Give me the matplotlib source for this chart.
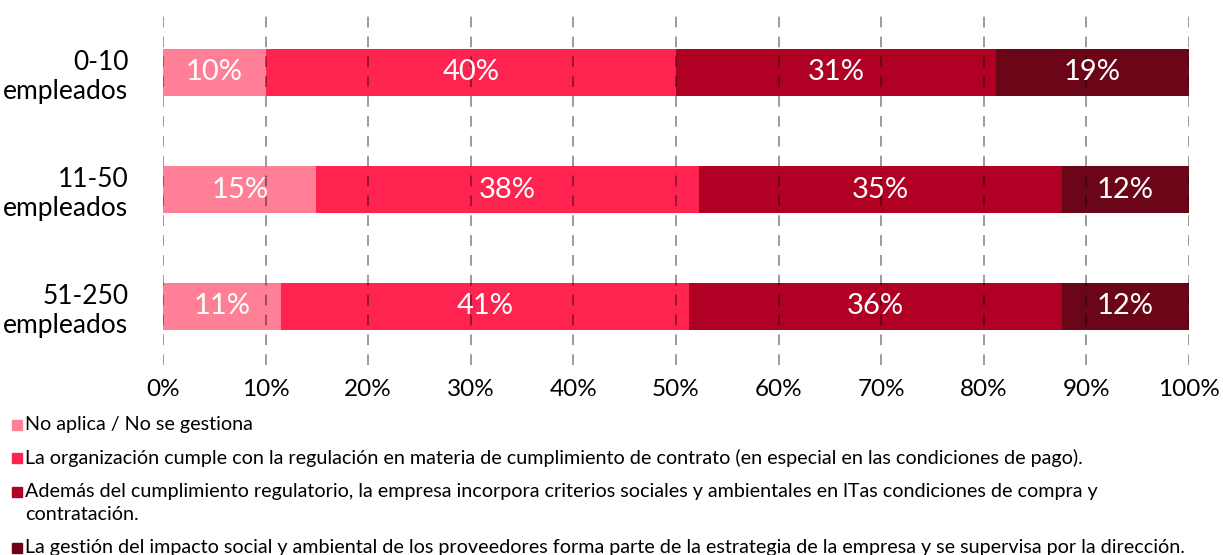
import matplotlib
matplotlib.use("Agg")
import matplotlib.pyplot as plt
from matplotlib.patches import Rectangle
from matplotlib.ticker import PercentFormatter
import numpy as np

plt.rcParams["font.family"] = ["Lato", "DejaVu Sans"]

categories = ["0-10\nempleados", "11-50\nempleados", "51-250\nempleados"]
no_aplica = [10.0, 14.95, 11.5]
cumple_regulacion = [40.0, 37.25, 39.8]
criterios_sociales = [31.2, 35.4, 36.3]
estrategia_empresa = [18.8, 12.4, 12.4]
bar_labels = [
    ["10%", "40%", "31%", "19%"],
    ["15%", "38%", "35%", "12%"],
    ["11%", "41%", "36%", "12%"],
]
legend_labels = [
    "No aplica / No se gestiona",
    "La organización cumple con la regulación en materia de cumplimiento de contrato (en especial en las condiciones de pago).",
    "Además del cumplimiento regulatorio, la empresa incorpora criterios sociales y ambientales en lTas condiciones de compra y\ncontratación.",
    "La gestión del impacto social y ambiental de los proveedores forma parte de la estrategia de la empresa y se supervisa por la dirección.",
]
colors = ["#FF8096", "#FF234F", "#B00024", "#6B0619"]

fig = plt.figure(figsize=(12.23, 5.55), dpi=100)
ax = fig.add_axes([163 / 1223, 1 - 365 / 555, 1026 / 1223, 351 / 555])

series = [no_aplica, cumple_regulacion, criterios_sociales, estrategia_empresa]
y = np.arange(len(categories))
left = np.zeros(len(categories))
for i, (vals, col) in enumerate(zip(series, colors)):
    vals = np.array(vals)
    ax.barh(y, vals, left=left, height=0.41, color=col, zorder=1)
    for j in range(len(categories)):
        ax.text(left[j] + vals[j] / 2, y[j], bar_labels[j][i], ha="center", va="center",
                color="white", fontsize=21, zorder=3)
    left += vals

ax.set_xlim(0, 100)
ax.set_ylim(len(categories) - 0.5, -0.5)
ax.set_yticks(y)
ax.set_yticklabels(categories, fontsize=19, linespacing=1.2)
for lbl in ax.get_yticklabels():
    lbl.set_horizontalalignment("right")
ax.set_xticks(np.arange(0, 101, 10))
ax.xaxis.set_major_formatter(PercentFormatter(decimals=0))
ax.tick_params(axis="x", labelsize=17.5, length=0, pad=10)
ax.tick_params(axis="y", length=0, pad=25)
ax.grid(axis="x", color="black", alpha=0.5, linestyle=(0, (7, 6)), linewidth=1.1, zorder=2)
ax.set_axisbelow(False)
for s in ax.spines.values():
    s.set_visible(False)

# legend drawn by hand so the square sits on the first line of wrapped entries
leg_y = [425, 458, 492, 548]
for lab, col, py in zip(legend_labels, colors, leg_y):
    fig.patches.append(Rectangle((12 / 1223, 1 - (py + 5) / 555), 10 / 1223, 10 / 555,
                                 transform=fig.transFigure, color=col, figure=fig))
    fig.text(25 / 1223, 1 - (py - 9) / 555, lab, ha="left", va="top", fontsize=14.2,
             linespacing=1.45, transform=fig.transFigure)

fig.savefig("out.png", dpi=100)
